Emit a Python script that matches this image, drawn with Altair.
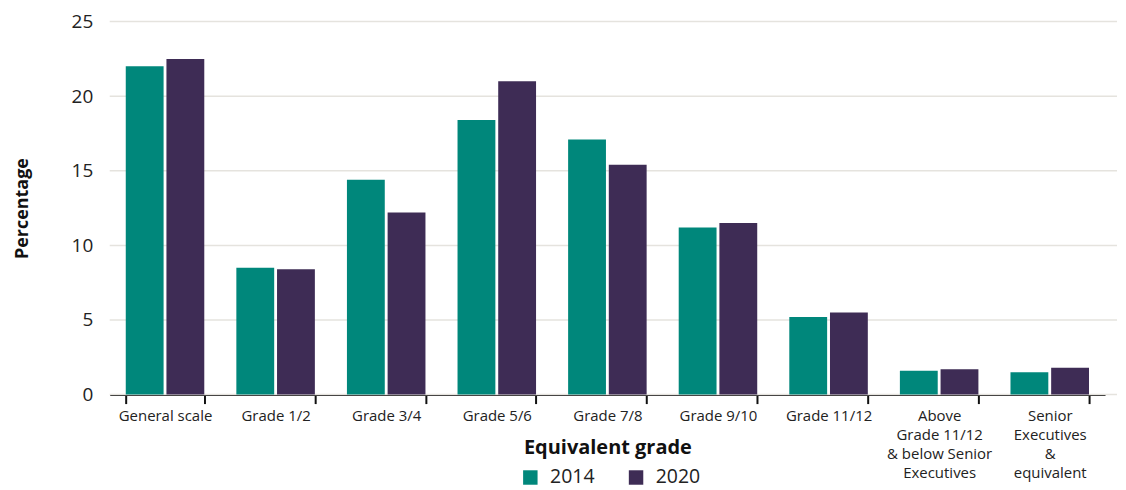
import altair as alt
import pandas as pd

categories = [
    "General scale", "Grade 1/2", "Grade 3/4", "Grade 5/6", "Grade 7/8",
    "Grade 9/10", "Grade 11/12",
    "Above|Grade 11/12|& below Senior|Executives",
    "Senior|Executives|&|equivalent",
]
years = ["2014", "2020"]
values_2014 = [22.0, 8.5, 14.4, 18.4, 17.1, 11.2, 5.2, 1.6, 1.5]
values_2020 = [22.5, 8.4, 12.2, 21.0, 15.4, 11.5, 5.5, 1.7, 1.8]
colors = ["#00877b", "#3e2c55"]
grid_values = [0, 5, 10, 15, 20, 25]

rows = []
for c, a, b in zip(categories, values_2014, values_2020):
    rows.append({"grade": c, "year": "2014", "pct": a})
    rows.append({"grade": c, "year": "2020", "pct": b})
df = pd.DataFrame(rows)
grid_df = pd.DataFrame({"v": grid_values})

FONT = "Open Sans"
W, H = 998, 374

grid = alt.Chart(grid_df).mark_rule(color="#e5e3de", strokeWidth=1.5).encode(
    y=alt.Y("v:Q", scale=alt.Scale(domain=[0, 25])),
    x=alt.value(0),
    x2=alt.value(W + 12),
)

bars = alt.Chart(df).mark_bar().encode(
    x=alt.X(
        "grade:N",
        sort=categories,
        scale=alt.Scale(paddingInner=0.29, paddingOuter=0.145),
        axis=alt.Axis(
            title="Equivalent grade",
            labelAngle=0,
            labelExpr="split(datum.label, '|')",
            labelFontSize=15,
            labelLineHeight=19,
            labelColor="#222222",
            labelPadding=5,
            tickBand="extent",
            domainColor="#111111",
            domainWidth=2,
            tickColor="#111111",
            tickWidth=2,
            tickSize=9,
            titleFontSize=20,
            titleFontWeight="bold",
            titleColor="#111111",
            titleY=59,
            titleBaseline="alphabetic",
        ),
    ),
    xOffset=alt.XOffset("year:N", scale=alt.Scale(paddingInner=0.07)),
    y=alt.Y(
        "pct:Q",
        scale=alt.Scale(domain=[0, 25]),
        axis=alt.Axis(
            title="Percentage",
            values=grid_values,
            grid=False,
            domain=False,
            ticks=False,
            labelFontSize=19,
            labelColor="#222222",
            labelPadding=17,
            titleFontSize=18,
            titleFontWeight="bold",
            titleColor="#111111",
            titlePadding=40,
        ),
    ),
    color=alt.Color(
        "year:N",
        scale=alt.Scale(domain=years, range=colors),
        legend=alt.Legend(
            title=None,
            orient="none",
            direction="horizontal",
            legendX=412,
            legendY=447,
            symbolType="square",
            symbolSize=210,
            symbolStrokeWidth=0,
            labelFontSize=19.5,
            labelColor="#222222",
            labelOffset=10,
            columnPadding=31,
        ),
    ),
)

chart = alt.layer(grid, bars).properties(
    width=W, height=H,
    padding={"left": 5, "top": 4, "right": 0, "bottom": 0},
).configure(font=FONT).configure_view(stroke=None)

chart.save("out.html", embed_options={"renderer": "svg", "actions": False})
